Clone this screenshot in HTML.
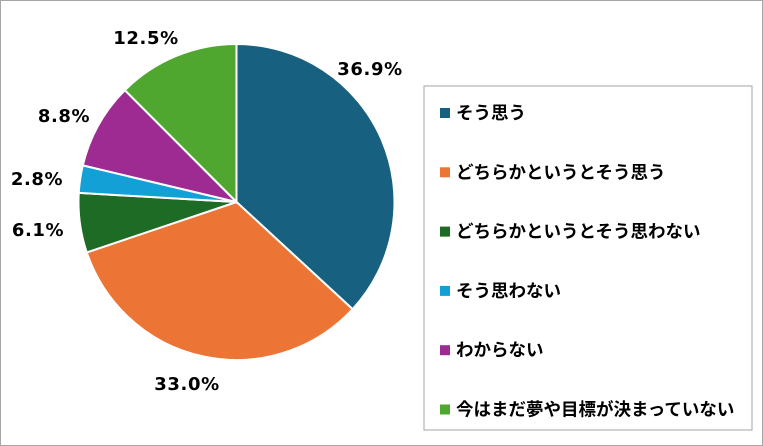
<!DOCTYPE html>
<html><head><meta charset="utf-8"><style>
body{margin:0;background:#fff;}
#wrap{position:relative;width:763px;height:446px;overflow:hidden;}
#frame{position:absolute;left:0;top:0;width:761px;height:444px;border:1px solid #a6a6a6;}
.lbl{font-family:"DejaVu Sans","Liberation Sans",sans-serif;font-weight:bold;font-size:18px;letter-spacing:0.6px;fill:#000;}
.leg{font-family:"Liberation Sans","Noto Sans CJK JP",sans-serif;font-weight:bold;font-size:17.5px;fill:#000;}
</style></head><body>
<div id="wrap">
<div id="frame"></div>
<svg id="svg" width="763" height="446" style="position:absolute;left:0;top:0">
<rect x="424" y="86" width="328" height="344" fill="#fff" stroke="#a6a6a6" stroke-width="1"/>
</svg>
</div>
<script>
const categories = ["そう思う","どちらかというとそう思う","どちらかというとそう思わない","そう思わない","わからない","今はまだ夢や目標が決まっていない"];
const values = [36.9, 33.0, 6.1, 2.8, 8.8, 12.5];
const valueLabels = ["36.9%","33.0%","6.1%","2.8%","8.8%","12.5%"];
const colors = ["#18607f","#ec7535","#1d6b25","#13a0d7","#9d2b91","#4fa72f"];
const labelPos = [[370,75],[187,390],[38,236],[37,185],[64,122],[146,44]];
const NS="http://www.w3.org/2000/svg";
const svg=document.getElementById('svg');
const cx=236.5, cy=202, r=158;
const total=values.reduce((a,b)=>a+b,0);
let acc=0;
function pt(a){return [cx+r*Math.sin(a), cy-r*Math.cos(a)];}
values.forEach((v,i)=>{
  const a0=acc/total*2*Math.PI; acc+=v; const a1=acc/total*2*Math.PI;
  const p0=pt(a0), p1=pt(a1);
  const large=(a1-a0)>Math.PI?1:0;
  const p=document.createElementNS(NS,'path');
  p.setAttribute('d',`M${cx},${cy}L${p0[0]},${p0[1]}A${r},${r} 0 ${large} 1 ${p1[0]},${p1[1]}Z`);
  p.setAttribute('fill',colors[i]);
  p.setAttribute('stroke','#fff');
  p.setAttribute('stroke-width','2');
  
  
  svg.appendChild(p);
  const t=document.createElementNS(NS,'text');
  t.setAttribute('x',labelPos[i][0]);t.setAttribute('y',labelPos[i][1]);
  t.setAttribute('text-anchor','middle');t.setAttribute('class','lbl');
  t.textContent=valueLabels[i];
  
  
  svg.appendChild(t);
  const y=113+i*59.3;
  const s=document.createElementNS(NS,'rect');
  s.setAttribute('x',440);s.setAttribute('y',y-5);s.setAttribute('width',10);s.setAttribute('height',10);
  s.setAttribute('fill',colors[i]);
  
  
  svg.appendChild(s);
  const lt=document.createElementNS(NS,'text');
  lt.setAttribute('x',456);lt.setAttribute('y',y+6);lt.setAttribute('class','leg');
  lt.textContent=categories[i];
  
  
  svg.appendChild(lt);
});
</script>
</body></html>
